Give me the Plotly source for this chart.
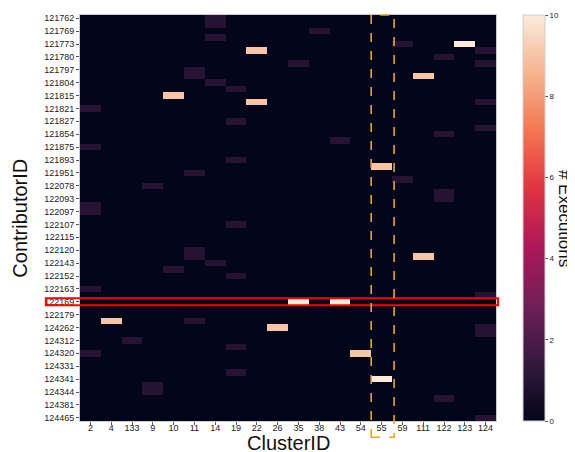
import plotly.graph_objects as go

# ---- data -------------------------------------------------------------
cluster_ids = ["2", "4", "133", "9", "10", "11", "14", "19", "22", "26",
               "35", "38", "43", "54", "55", "59", "111", "122", "123", "124"]

# labelled contributor rows (every other row of the 63-row matrix carries a label)
contributor_labels = ["121762", "121769", "121773", "121780", "121797", "121804",
                      "121815", "121821", "121827", "121854", "121875", "121893",
                      "121951", "122078", "122093", "122097", "122107", "122115",
                      "122120", "122143", "122152", "122163", "122169", "122179",
                      "124262", "124312", "124320", "124331", "124341", "124344",
                      "124381", "124465"]
n_rows = 63

# non-zero cells (row index, cluster id, executions)
cell_rows = [0, 1, 2, 3, 4, 4, 5, 5, 6, 7, 7, 8, 9, 9, 10, 11, 12, 13, 13, 14,
             16, 17, 18, 19, 20, 22, 23, 24, 25, 26, 27, 28, 29, 30, 32, 36, 37,
             37, 38, 39, 40, 42, 43, 44, 44, 47, 47, 48, 48, 49, 50, 51, 52, 52,
             55, 56, 57, 58, 59, 62]
cell_clusters = ["14", "14", "38", "14", "59", "123", "22", "124", "122", "35", "124",
                 "11", "11", "111", "14", "19", "10", "22", "124", "2",
                 "19", "124", "122", "43", "2", "19", "55", "11", "59", "9", "122",
                 "122", "2", "2", "19", "11", "11",
                 "111", "14", "10", "19", "2", "124", "35", "43", "4", "11", "26",
                 "124", "124", "133", "19", "2", "54",
                 "19", "55", "9", "9", "122", "124"]
cell_values = [1, 1, 1, 1, 1, 10, 9, 1, 1, 1, 1, 1, 1, 9, 1, 1, 9, 9, 1, 1,
               1, 1, 1, 1, 1, 1, 9, 1, 1, 1, 1, 1, 1, 1, 1, 1, 1,
               9, 1, 1, 1, 1, 1, 10, 10, 9, 1, 9, 1, 1, 1, 1, 1, 9,
               1, 10, 1, 1, 1, 1]

highlight_row_label = "122169"
highlight_cluster = "55"

# ---- build matrix -----------------------------------------------------
z = [[0.0] * len(cluster_ids) for _ in range(n_rows)]
for r, c, v in zip(cell_rows, cell_clusters, cell_values):
    z[r][cluster_ids.index(c)] = v

rocket = [
    [0.0, "#03051a"], [1/7, "#35193e"], [2/7, "#701f57"], [3/7, "#ad1759"],
    [4/7, "#e13342"], [5/7, "#f37651"], [6/7, "#f6b48f"], [1.0, "#faebdd"],
]

fig = go.Figure(go.Heatmap(
    z=z,
    x=list(range(len(cluster_ids))),
    y=list(range(n_rows)),
    colorscale=rocket,
    zmin=0, zmax=10,
    colorbar=dict(
        x=1.065, xanchor="left", y=0.5, yanchor="middle", len=1.0,
        xpad=0, ypad=0,
        thickness=22, outlinewidth=1, outlinecolor="#d0d0d0",
        tickvals=[0, 2, 4, 6, 8, 10], ticks="outside", ticklen=3,
        tickcolor="#555", tickfont=dict(size=8, color="#222"),
    ),
    hoverongaps=False,
))

tick_rows = [2 * i for i in range(len(contributor_labels))]

fig.update_xaxes(
    tickvals=list(range(len(cluster_ids))), ticktext=cluster_ids,
    range=[-0.5, len(cluster_ids) - 0.5], showgrid=False, zeroline=False,
    ticks="outside", ticklen=3, tickcolor="#555", ticklabelstandoff=-5,
    tickfont=dict(size=9, color="#222"), automargin=False,
    showline=True, linecolor="#cccccc", mirror=True,
)
fig.update_yaxes(
    tickvals=tick_rows, ticktext=contributor_labels,
    range=[n_rows - 0.5, -0.5], showgrid=False, zeroline=False,
    ticks="outside", ticklen=3, tickcolor="#555",
    tickfont=dict(size=9, color="#222"), automargin=False,
    showline=True, linecolor="#cccccc", mirror=True,
)

hr = tick_rows[contributor_labels.index(highlight_row_label)]
hc = cluster_ids.index(highlight_cluster)

fig.add_shape(type="rect", xref="paper", yref="y",
              x0=-0.082, x1=1.005, y0=hr - 0.55, y1=hr + 0.55,
              line=dict(color="#ff0000", width=2))
fig.add_shape(type="rect", xref="x", yref="paper",
              x0=hc - 0.5, x1=hc + 0.6, y0=-0.04, y1=1.0,
              line=dict(color="#e3ac1c", width=1.6, dash="dash"))

fig.add_annotation(text="ContributorID", xref="paper", yref="paper",
                   x=-0.145, y=0.5, xanchor="center", yanchor="middle",
                   textangle=-90, showarrow=False,
                   font=dict(size=20, color="#111"))
fig.add_annotation(text="ClusterID", xref="paper", yref="paper",
                   x=0.5, y=-0.053, xanchor="center", yanchor="middle",
                   showarrow=False, font=dict(size=20, color="#111"))
fig.add_annotation(text="# Executions", xref="paper", yref="paper",
                   x=1.166, y=0.5, xanchor="center", yanchor="middle",
                   textangle=90, showarrow=False,
                   font=dict(size=17, color="#111"))

# the page body adds an 8px offset, so the figure is sized to the remaining area
fig.update_layout(
    width=567, height=444,
    margin=dict(l=72, r=79, t=7, b=31, autoexpand=False),
    paper_bgcolor="white", plot_bgcolor="#03051a",
    font=dict(family="Liberation Sans, Arial, sans-serif"),
    showlegend=False,
)

fig.write_html("out.html")
